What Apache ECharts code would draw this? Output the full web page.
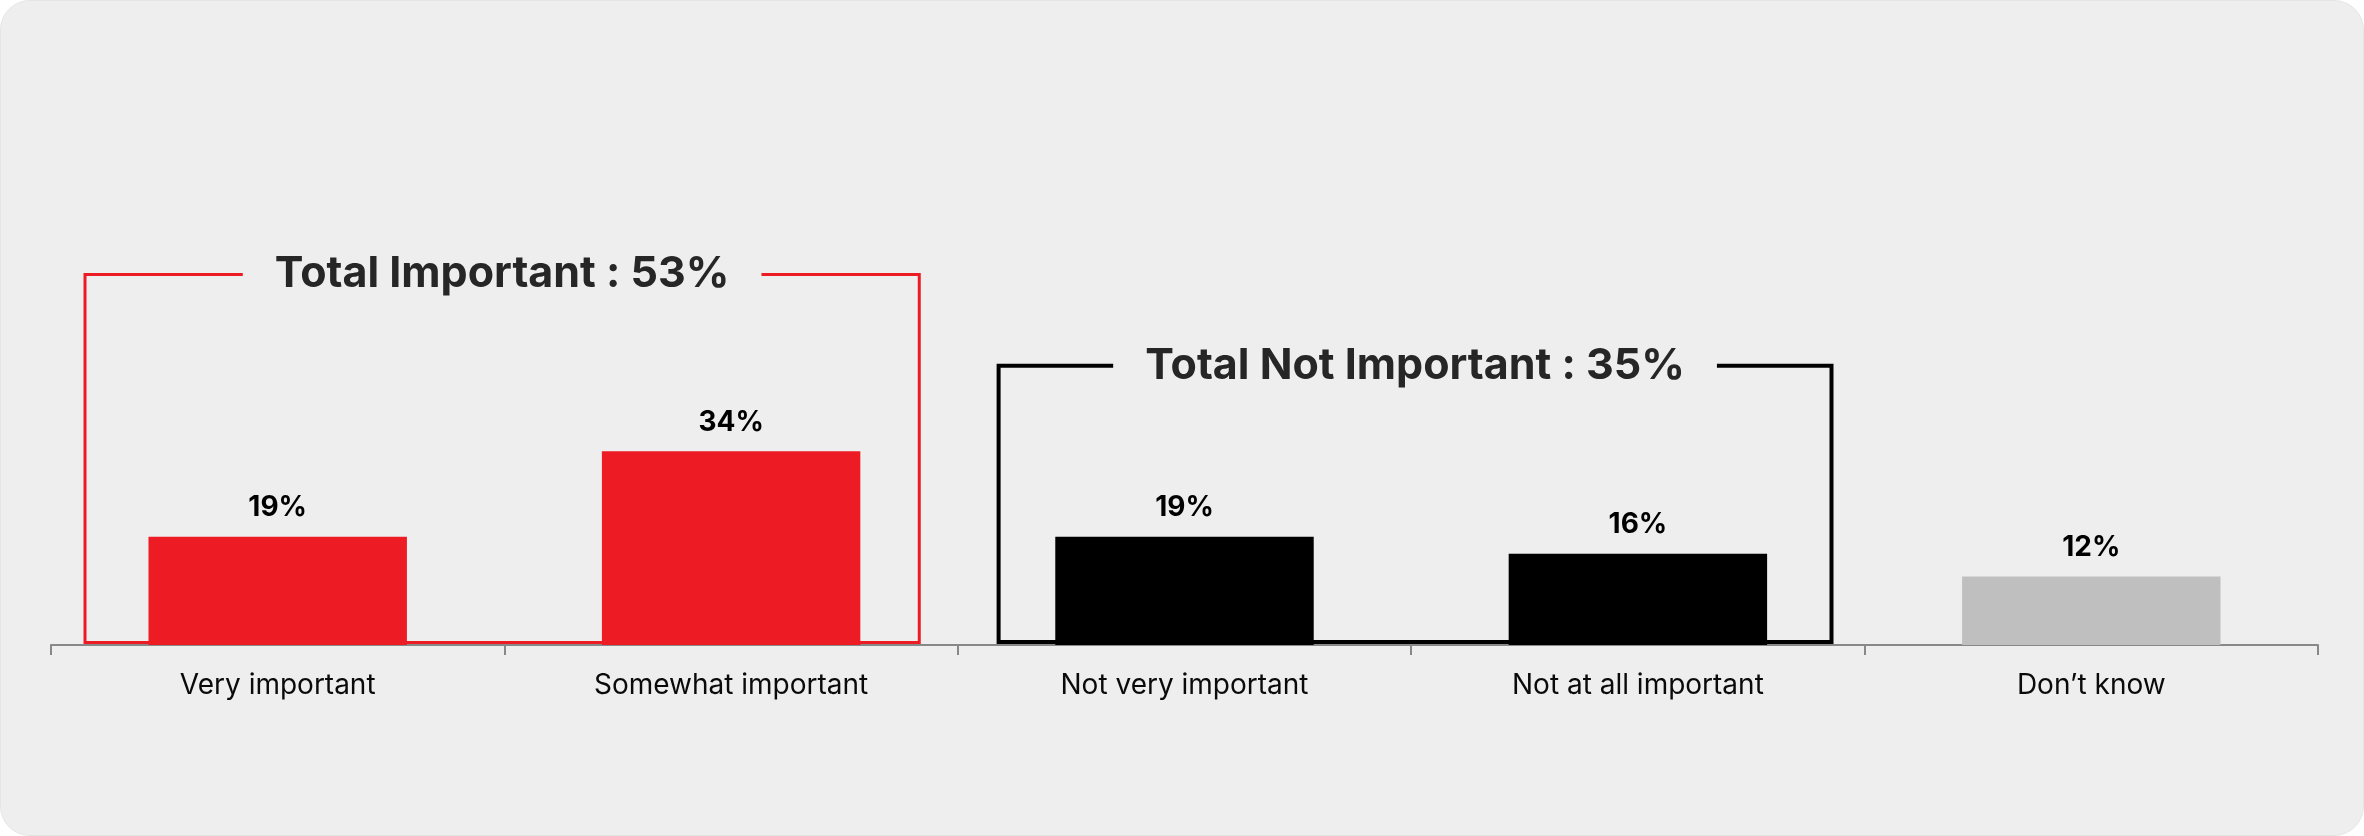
<!DOCTYPE html>
<html>
<head>
<meta charset="utf-8">
<script src="https://cdn.jsdelivr.net/npm/echarts@6/dist/echarts.min.js"></script>
<style>
  html, body { margin:0; padding:0; background:#ffffff; }
  #chart { width:2364px; height:836px; border-radius:30px; overflow:hidden; background:#eeeeee; box-sizing:border-box; border:1px solid #e4e4e4; }
</style>
</head>
<body>
<div id="chart"></div>
<script>
const categories = ['Very important', 'Somewhat important', 'Not very important', 'Not at all important', 'Don\u2019t know'];
const values = [19, 34, 19, 16, 12];
const barColors = ['#ED1C24', '#ED1C24', '#000000', '#000000', '#BFBFBF'];
const groupLabels = ['Total Important : 53%', 'Total Not Important : 35%'];
const groupRanges = [[0, 1], [2, 3]];
const groupLevels = [65, 49];
const groupColors = ['#ED1C24', '#000000'];

const chart = echarts.init(document.getElementById('chart'), null, { renderer: 'canvas' });
const FONT = 'Inter, "Noto Sans", sans-serif';

chart.setOption({
  backgroundColor: '#eeeeee',
  animation: false,
  grid: { left: 50, right: 45, top: 74, bottom: 190, containLabel: false },
  xAxis: {
    type: 'category',
    data: categories,
    axisLine: { lineStyle: { color: '#888888', width: 2 } },
    axisTick: { show: true, length: 10, lineStyle: { color: '#888888', width: 2 } },
    axisLabel: { margin: 27, color: '#0a0a0a', fontSize: 28, fontFamily: FONT }
  },
  yAxis: { type: 'value', min: 0, max: 100, show: false, splitLine: { show: false } },
  series: [{
    type: 'bar',
    z: 2,
    barWidth: '57%',
    data: values.map((v, i) => ({ value: v, itemStyle: { color: barColors[i] } })),
    label: {
      show: true, position: 'top', distance: 15,
      formatter: p => p.value + '%',
      color: '#000000', fontSize: 28, fontWeight: 'bold', fontFamily: FONT
    }
  }]
});

function drawGroups() {
  const yBase = chart.convertToPixel({ yAxisIndex: 0 }, 0);
  const c0 = chart.convertToPixel({ xAxisIndex: 0 }, 0);
  const c1 = chart.convertToPixel({ xAxisIndex: 0 }, 1);
  const band = c1 - c0;
  const elements = [];
  groupRanges.forEach((r, g) => {
    const left = chart.convertToPixel({ xAxisIndex: 0 }, r[0]) - band * (g === 0 ? 0.425 : 0.41);
    const right = chart.convertToPixel({ xAxisIndex: 0 }, r[1]) + band * (g === 0 ? 0.415 : 0.427);
    const top = chart.convertToPixel({ yAxisIndex: 0 }, groupLevels[g]);
    const lw = g === 0 ? 3 : 4;
    elements.push({
      type: 'rect', z: 1,
      shape: { x: left, y: top, width: right - left, height: yBase - 1 - lw / 2 - top },
      style: { fill: null, stroke: groupColors[g], lineWidth: lw }
    });
    elements.push({
      type: 'text', z: 10,
      x: (left + right) / 2, y: top,
      style: {
        text: groupLabels[g], fill: '#262626',
        font: 'bold 43px ' + FONT,
        align: 'center', verticalAlign: 'middle',
        backgroundColor: '#eeeeee', padding: [0, 32]
      }
    });
  });
  chart.setOption({ graphic: elements });
}
drawGroups();
</script>
</body>
</html>
